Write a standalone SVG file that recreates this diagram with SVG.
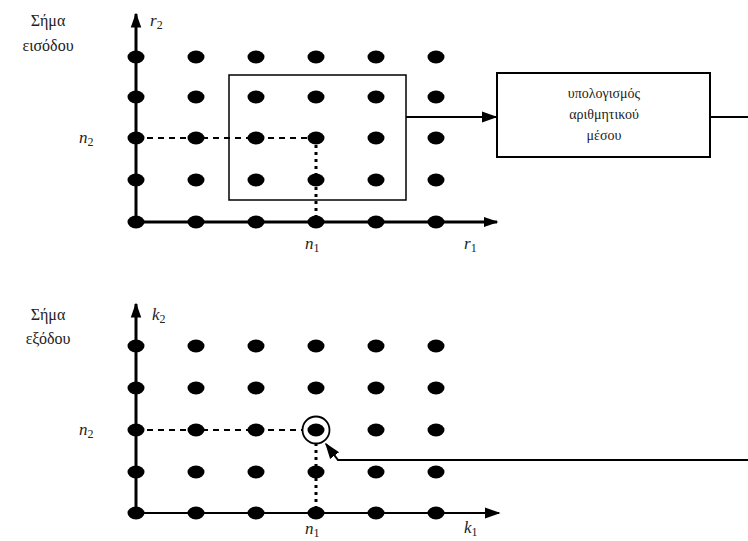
<svg xmlns="http://www.w3.org/2000/svg" width="748" height="541" viewBox="0 0 748 541">
  <defs>
    <style>
      .dot { fill: #000; }
      .axis { stroke: #000; stroke-width: 3; fill: none; }
      .axis-thin { stroke: #000; stroke-width: 2; fill: none; }
      .dash { stroke: #000; stroke-width: 2; stroke-dasharray: 6 5; fill: none; }
      .dots { stroke: #000; stroke-width: 3; stroke-dasharray: 3 4; fill: none; }
      .wire { stroke: #000; stroke-width: 2; fill: none; }
      .box { stroke: #000; stroke-width: 2; fill: #fff; }
      .win { stroke: #000; stroke-width: 1.5; fill: none; }
      .lbl { font-family: "Liberation Serif", "DejaVu Serif", serif; font-size: 16px; fill: #222; }
      .math { font-family: "Liberation Serif", "DejaVu Serif", serif; font-style: italic; font-size: 17px; fill: #222; }
      .sub { font-size: 12px; font-style: normal; }
      .boxtxt { font-family: "Liberation Serif", "DejaVu Serif", serif; font-size: 14px; fill: #222; text-anchor: middle; }
    </style>
    <marker id="arr" viewBox="0 0 10 10" refX="9" refY="5" markerWidth="5" markerHeight="5" orient="auto" markerUnits="strokeWidth">
      <path d="M0,1.5 L10,5 L0,8.5 Z" fill="#000"/>
    </marker>
    <marker id="arr2" viewBox="0 0 10 10" refX="9" refY="5" markerWidth="8" markerHeight="8" orient="auto" markerUnits="strokeWidth">
      <path d="M0,1.5 L10,5 L0,8.5 Z" fill="#000"/>
    </marker>
    <ellipse id="pt" cx="0" cy="0" rx="8.5" ry="6.5" class="dot"/>
  </defs>

  <!-- input signal grid -->
  <g id="input-grid">
    <text class="lbl" x="48" y="26" text-anchor="middle">Σήμα</text>
    <text class="lbl" x="48" y="51" text-anchor="middle">εισόδου</text>
    <line class="axis" x1="136" y1="222" x2="136" y2="14" marker-end="url(#arr)"/>
    <line class="axis" x1="136" y1="222" x2="497" y2="222" marker-end="url(#arr)"/>
    <text class="math" x="150" y="26">r<tspan class="sub" dy="3">2</tspan></text>
    <text class="math" x="464" y="249">r<tspan class="sub" dy="3">1</tspan></text>
    <text class="math" x="79" y="143">n<tspan class="sub" dy="3">2</tspan></text>
    <text class="math" x="305" y="249">n<tspan class="sub" dy="3">1</tspan></text>
    <line class="dash" x1="136" y1="138" x2="316" y2="138"/>
    <line class="dots" x1="316" y1="138" x2="316" y2="222"/>
    <g id="input-points">
      <use href="#pt" x="136" y="57"/><use href="#pt" x="196" y="57"/><use href="#pt" x="256" y="57"/><use href="#pt" x="316" y="57"/><use href="#pt" x="376" y="57"/><use href="#pt" x="436" y="57"/>
      <use href="#pt" x="136" y="97"/><use href="#pt" x="196" y="97"/><use href="#pt" x="256" y="97"/><use href="#pt" x="316" y="97"/><use href="#pt" x="376" y="97"/><use href="#pt" x="436" y="97"/>
      <use href="#pt" x="136" y="138"/><use href="#pt" x="196" y="138"/><use href="#pt" x="256" y="138"/><use href="#pt" x="316" y="138"/><use href="#pt" x="376" y="138"/><use href="#pt" x="436" y="138"/>
      <use href="#pt" x="136" y="180"/><use href="#pt" x="196" y="180"/><use href="#pt" x="256" y="180"/><use href="#pt" x="316" y="180"/><use href="#pt" x="376" y="180"/><use href="#pt" x="436" y="180"/>
      <use href="#pt" x="136" y="222"/><use href="#pt" x="196" y="222"/><use href="#pt" x="256" y="222"/><use href="#pt" x="316" y="222"/><use href="#pt" x="376" y="222"/><use href="#pt" x="436" y="222"/>
    </g>
    <rect id="window" class="win" x="229" y="75" width="177" height="125"/>
  </g>

  <!-- averaging block -->
  <g id="mean-block">
    <rect class="box" x="497" y="73" width="213" height="84"/>
    <text class="boxtxt" x="604" y="98">υπολογισμός</text>
    <text class="boxtxt" x="604" y="119">αριθμητικού</text>
    <text class="boxtxt" x="604" y="140">μέσου</text>
  </g>

  <!-- output signal grid -->
  <g id="output-grid">
    <text class="lbl" x="48" y="320" text-anchor="middle">Σήμα</text>
    <text class="lbl" x="48" y="344" text-anchor="middle">εξόδου</text>
    <line class="axis" x1="136" y1="513" x2="136" y2="304" marker-end="url(#arr)"/>
    <line class="axis-thin" x1="136" y1="513" x2="499" y2="513" marker-end="url(#arr2)"/>
    <text class="math" x="152" y="320">k<tspan class="sub" dy="3">2</tspan></text>
    <text class="math" x="464" y="533">k<tspan class="sub" dy="3">1</tspan></text>
    <text class="math" x="79" y="435">n<tspan class="sub" dy="3">2</tspan></text>
    <text class="math" x="305" y="534">n<tspan class="sub" dy="3">1</tspan></text>
    <line class="dash" x1="136" y1="430" x2="302" y2="430"/>
    <line class="dots" x1="316" y1="443" x2="316" y2="513"/>
    <g id="output-points">
      <use href="#pt" x="136" y="346"/><use href="#pt" x="196" y="346"/><use href="#pt" x="256" y="346"/><use href="#pt" x="316" y="346"/><use href="#pt" x="376" y="346"/><use href="#pt" x="436" y="346"/>
      <use href="#pt" x="136" y="388"/><use href="#pt" x="196" y="388"/><use href="#pt" x="256" y="388"/><use href="#pt" x="316" y="388"/><use href="#pt" x="376" y="388"/><use href="#pt" x="436" y="388"/>
      <use href="#pt" x="136" y="430"/><use href="#pt" x="196" y="430"/><use href="#pt" x="256" y="430"/><use href="#pt" x="316" y="430"/><use href="#pt" x="376" y="430"/><use href="#pt" x="436" y="430"/>
      <use href="#pt" x="136" y="472"/><use href="#pt" x="196" y="472"/><use href="#pt" x="256" y="472"/><use href="#pt" x="316" y="472"/><use href="#pt" x="376" y="472"/><use href="#pt" x="436" y="472"/>
      <use href="#pt" x="136" y="513"/><use href="#pt" x="196" y="513"/><use href="#pt" x="256" y="513"/><use href="#pt" x="316" y="513"/><use href="#pt" x="376" y="513"/><use href="#pt" x="436" y="513"/>
    </g>
    <circle id="target" cx="316" cy="430" r="13.5" fill="none" stroke="#000" stroke-width="1.8"/>
  </g>

  <!-- connectors -->
  <g id="connectors">
    <line class="wire" x1="406" y1="117" x2="496" y2="117" marker-end="url(#arr2)"/>
    <line class="wire" x1="710" y1="117" x2="748" y2="117"/>
    <polyline class="wire" points="748,460 338,460 326,444" marker-end="url(#arr2)"/>
  </g>
</svg>
